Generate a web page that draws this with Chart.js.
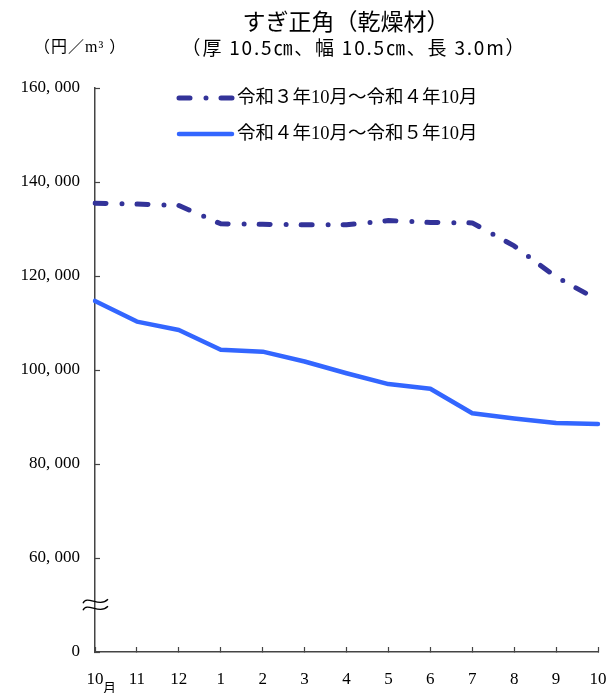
<!DOCTYPE html>
<html>
<head>
<meta charset="utf-8">
<script src="https://cdn.jsdelivr.net/npm/chart.js@4.4.1/dist/chart.umd.min.js"></script>
<style>
html, body { margin: 0; padding: 0; background: #fff; }
</style>
</head>
<body>
<canvas id="chart" width="616" height="693"></canvas>
<script>
// 月 (10月始まり)
var months = ["10", "11", "12", "1", "2", "3", "4", "5", "6", "7", "8", "9", "10"];
var seriesNames = ["令和３年10月～令和４年10月", "令和４年10月～令和５年10月"];
// 円／m3
var pricesR3 = [135500, 135300, 135000, 131100, 131000, 130900, 130900, 131800, 131400, 131300, 126400, 119800, 114900];
var pricesR4 = [114700, 110300, 108500, 104300, 103900, 101800, 99300, 97000, 96000, 90800, 89700, 88700, 88500];
// 縦軸は 40,000 以下を省略して「0」と表示
var yMin = 40000;
var yMax = 160000;
var yStep = 20000;

var serif = '"Liberation Serif", "Noto Sans CJK JP", serif';
var gothic = '"Noto Sans CJK JP", sans-serif';

function yLabel(v) {
    if (v == yMin) {
        return "0";
    }
    return v.toLocaleString("en-US").replace(",", ", ");
}

var textPlugin = {
    id: "texts",
    afterDraw: function(chart) {
        var ctx = chart.ctx;
        ctx.save();
        ctx.fillStyle = "#000";
        ctx.textBaseline = "middle";
        ctx.textAlign = "center";
        ctx.font = "23px " + gothic;
        ctx.fillText("すぎ正角（乾燥材）", 346, 21);
        ctx.font = "19px " + gothic;
        ctx.letterSpacing = "1.8px";
        ctx.fillText("（厚 10.5㎝、幅 10.5㎝、長 3.0m）", 354, 48);
        ctx.textAlign = "left";
        ctx.font = "16px " + serif;
        ctx.letterSpacing = "1px";
        ctx.fillText("（円／m³ ）", 34, 48);
        ctx.letterSpacing = "0px";

        // 凡例
        var ds = chart.data.datasets;
        for (let i = 0; i < ds.length; i++) {
            var y = 98 + i * 36;
            ctx.beginPath();
            ctx.strokeStyle = ds[i].borderColor;
            ctx.lineWidth = ds[i].borderWidth;
            ctx.lineCap = ds[i].borderCapStyle || "butt";
            ctx.setLineDash(ds[i].borderDash || []);
            ctx.moveTo(179, y);
            ctx.lineTo(232, y);
            ctx.stroke();
            ctx.setLineDash([]);
            ctx.font = "18.5px " + serif;
            ctx.fillText(seriesNames[i], 237, y);
        }

        // 先頭の「月」
        var x = chart.scales.x.getPixelForValue(0);
        ctx.font = "13px " + gothic;
        ctx.fillText("月", x + 8, 687);

        // 省略記号
        var yb = chart.scales.y.getPixelForValue(51000);
        ctx.strokeStyle = "#000";
        ctx.lineWidth = 1.3;
        ctx.lineCap = "butt";
        for (let k = 0; k < 2; k++) {
            var w = yb + k * 7;
            ctx.beginPath();
            ctx.moveTo(83, w + 3);
            ctx.bezierCurveTo(87, w - 6, 99, w + 8, 108, w - 1);
            ctx.stroke();
        }
        ctx.restore();
    }
};

new Chart(document.getElementById("chart"), {
    type: "line",
    data: {
        labels: months,
        datasets: [{
            label: seriesNames[0],
            data: pricesR3,
            borderColor: "#333399",
            borderWidth: 5,
            borderDash: [11, 16, 0, 15],
            borderCapStyle: "round",
            borderJoinStyle: "round",
            pointRadius: 0,
            tension: 0,
            fill: false
        }, {
            label: seriesNames[1],
            data: pricesR4,
            borderColor: "#3366ff",
            borderWidth: 4.5,
            borderCapStyle: "round",
            borderJoinStyle: "round",
            pointRadius: 0,
            tension: 0,
            fill: false
        }]
    },
    options: {
        responsive: false,
        animation: false,
        layout: {
            padding: { top: 88, right: 18, bottom: 0, left: 0 }
        },
        plugins: {
            legend: { display: false },
            title: { display: false },
            tooltip: { enabled: false }
        },
        scales: {
            x: {
                offset: false,
                border: { color: "#444", width: 1.5 },
                grid: { drawOnChartArea: false, tickLength: -5, tickColor: "#444", tickWidth: 1.2 },
                ticks: { color: "#000", padding: 22, maxRotation: 0, autoSkip: false, font: { family: serif, size: 17 } },
                afterFit: function(scale) {
                    scale.height = 41;
                    scale.paddingLeft = 0;
                    scale.paddingRight = 0;
                }
            },
            y: {
                min: yMin,
                max: yMax,
                border: { color: "#444", width: 1.5 },
                grid: { drawOnChartArea: false, tickLength: -5, tickColor: "#444", tickWidth: 1.2 },
                ticks: { stepSize: yStep, color: "#000", padding: 20, callback: yLabel, font: { family: serif, size: 17 } },
                afterFit: function(scale) { scale.width = 95; }
            }
        }
    },
    plugins: [textPlugin]
});
</script>
</body>
</html>
